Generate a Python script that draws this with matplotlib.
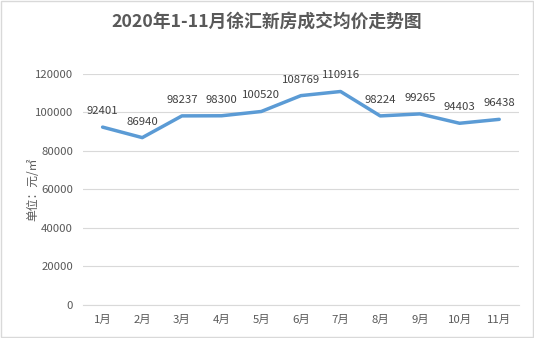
import matplotlib
matplotlib.use("Agg")
import matplotlib.pyplot as plt
from matplotlib.patches import Rectangle

plt.rcParams['font.family'] = ['Noto Sans CJK SC', 'DejaVu Sans']

months = ["1月", "2月", "3月", "4月", "5月", "6月", "7月", "8月", "9月", "10月", "11月"]
prices = [92401, 86940, 98237, 98300, 100520, 108769, 110916, 98224, 99265, 94403, 96438]
yticks = [0, 20000, 40000, 60000, 80000, 100000, 120000]

fig = plt.figure(figsize=(5.34, 3.38), dpi=100)
fig.patches.append(Rectangle((0.002, 0.003), 0.996, 0.994, transform=fig.transFigure,
                             fill=False, edgecolor='#d9d9d9', linewidth=1))
ax = fig.add_axes([0.155, 0.098, 0.817, 0.683])

x = list(range(len(months)))
ax.plot(x, prices, color='#5B9BD5', linewidth=2.5, solid_capstyle='round')
for xi, v in zip(x, prices):
    ax.annotate(str(v), (xi, v), xytext=(0, 8), textcoords='offset points',
                ha='center', va='bottom', fontsize=8.2, color='#404040')

ax.set_xlim(-0.5, len(months) - 0.5)
ax.set_ylim(0, 120000)
ax.set_yticks(yticks)
ax.set_yticklabels([str(t) for t in yticks])
ax.set_xticks(x)
ax.set_xticklabels(months)
ax.tick_params(axis='both', length=0, labelsize=8.2, labelcolor='#595959', pad=7)
ax.grid(axis='y', color='#d9d9d9', linewidth=0.8)
ax.set_axisbelow(True)
for s in ['top', 'right', 'left']:
    ax.spines[s].set_visible(False)
ax.spines['bottom'].set_color('#d9d9d9')

ax.set_ylabel('单位：元/㎡', fontsize=8.5, color='#595959')
ax.yaxis.set_label_coords(-0.1, 0.5)
fig.text(0.5, 0.935, '2020年1-11月徐汇新房成交均价走势图', ha='center', va='center',
         fontsize=12.8, fontweight='bold', color='#595959')

fig.savefig('out.png', dpi=100)
